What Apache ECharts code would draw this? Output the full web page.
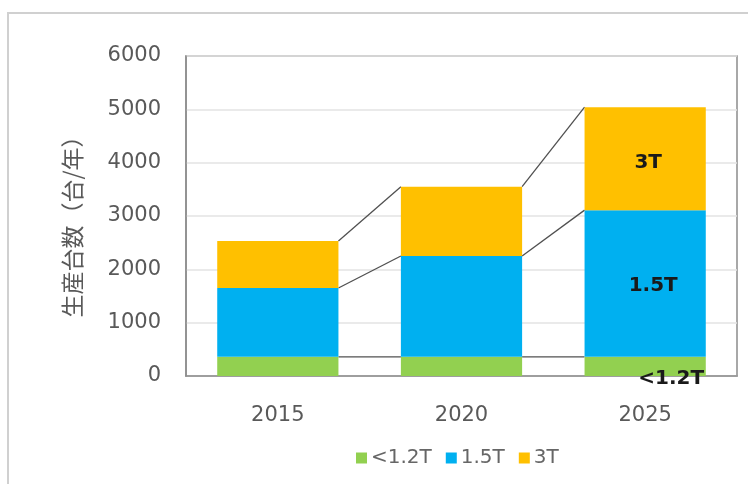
<!DOCTYPE html>
<html>

<head>
    <meta charset="utf-8">
    <title>生産台数</title>
    <script src="https://cdn.jsdelivr.net/npm/echarts@6/dist/echarts.min.js"></script>
</head>

<body style="margin:0;background:#fff;">
    <div id="main" style="width: 748px;height:484px;"></div>
    <script type="text/javascript">
        // data
        var years = ['2015', '2020', '2025'];
        var lowField = [360, 360, 360];      // <1.2T
        var midField = [1290, 1890, 2750];   // 1.5T
        var highField = [880, 1300, 1930];   // 3T
        var seriesNames = ['<1.2T', '1.5T', '3T'];
        var yTicks = [0, 1000, 2000, 3000, 4000, 5000, 6000];

        var colors = ['#92D050', '#00B0F0', '#FFC000'];
        var labelFont = 'DejaVu Sans, sans-serif';
        var barRatio = 0.66;

        var dom = document.getElementById("main");
        var myChart = echarts.init(dom);

        // label only on the last bar
        function withLabel(arr, text, offset) {
            return arr.map(function (v, i) {
                if (i !== arr.length - 1) return v;
                return {
                    value: v,
                    label: {
                        show: true,
                        position: 'inside',
                        offset: offset,
                        formatter: text,
                        fontFamily: labelFont,
                        fontWeight: 'bold',
                        fontSize: 20,
                        color: '#1a1a1a'
                    }
                };
            });
        }

        // cumulative tops for the series lines
        var stacks = [lowField, midField, highField];
        var cum = years.map(function (y, i) {
            var s = 0, out = [];
            stacks.forEach(function (arr) { s += arr[i]; out.push(s); });
            return out;
        });
        var gaps = [];
        for (var g = 0; g < years.length - 1; g++) gaps.push([g, 0]);

        var option = {
            animation: false,
            color: colors,
            graphic: [{
                type: 'polyline',
                shape: { points: [[8, 484], [8, 13], [748, 13]] },
                style: { stroke: '#d0d0d0', lineWidth: 2, fill: null }
            }],
            legend: {
                data: seriesNames,
                bottom: 11,
                left: 351,
                itemWidth: 11,
                itemHeight: 11,
                itemGap: 14,
                icon: 'rect',
                textStyle: { fontFamily: labelFont, fontSize: 20, color: '#666666', padding: [0, 0, 0, -1] }
            },
            grid: {
                left: 186, top: 56, right: 11, bottom: 108,
                show: true, borderColor: '#8c8c8c', borderWidth: 1.5
            },
            xAxis: {
                type: 'category',
                data: years,
                axisLine: { lineStyle: { color: '#8c8c8c', width: 1.5 } },
                axisTick: { show: false },
                axisLabel: { fontFamily: labelFont, fontSize: 21, color: '#595959', margin: 29 }
            },
            yAxis: {
                type: 'value',
                min: yTicks[0],
                max: yTicks[yTicks.length - 1],
                interval: 1000,
                name: '生産台数（台/年）',
                nameLocation: 'middle',
                nameGap: 102,
                nameRotate: 90,
                nameTextStyle: { fontFamily: 'Noto Sans CJK JP', fontSize: 23, color: '#595959', padding: [0, 0, 0, -10] },
                axisLine: { show: true, lineStyle: { color: '#8c8c8c', width: 1.5 } },
                axisTick: { show: false },
                splitLine: { lineStyle: { color: '#e3e3e3', width: 1.5 } },
                axisLabel: {
                    fontFamily: labelFont, fontSize: 21, color: '#595959', margin: 25,
                    formatter: function (v) { return String(v); }
                }
            },
            series: [{
                name: seriesNames[0],
                type: 'bar',
                stack: 'all',
                barWidth: (barRatio * 100) + '%',
                data: withLabel(lowField, '<1.2T', [26, 12])
            }, {
                name: seriesNames[1],
                type: 'bar',
                stack: 'all',
                data: withLabel(midField, '1.5T', [8, 2])
            }, {
                name: seriesNames[2],
                type: 'bar',
                stack: 'all',
                data: withLabel(highField, '3T', [3, 4])
            }, {
                // series lines between bar tops
                type: 'custom',
                silent: true,
                data: gaps,
                encode: { x: 0, y: 1 },
                renderItem: function (params, api) {
                    var i = api.value(0);
                    var half = api.size([1, 0])[0] * barRatio / 2;
                    var children = [];
                    for (var k = 0; k < stacks.length; k++) {
                        var p1 = api.coord([i, cum[i][k]]);
                        var p2 = api.coord([i + 1, cum[i + 1][k]]);
                        children.push({
                            type: 'line',
                            shape: { x1: p1[0] + half, y1: p1[1], x2: p2[0] - half, y2: p2[1] },
                            style: { stroke: '#505050', lineWidth: 1.3 }
                        });
                    }
                    return { type: 'group', children: children };
                }
            }]
        };

        myChart.setOption(option);
    </script>
</body>

</html>
